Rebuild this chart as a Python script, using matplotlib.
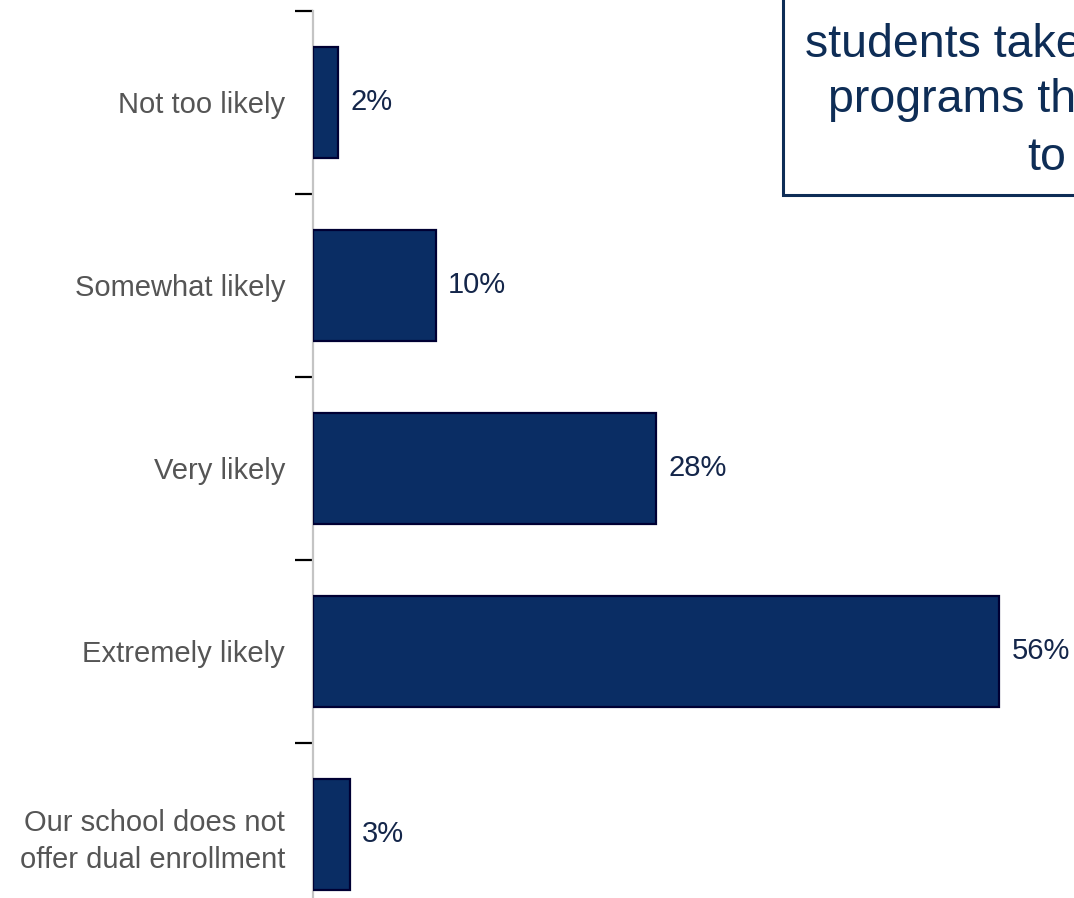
import matplotlib
matplotlib.use("Agg")
import matplotlib.pyplot as plt
from matplotlib.patches import Rectangle
import numpy as np

plt.rcParams['font.family'] = ['Liberation Sans', 'DejaVu Sans']

# Survey responses (top to bottom)
categories = [
    "Not too likely",
    "Somewhat likely",
    "Very likely",
    "Extremely likely",
    "Our school does not\noffer dual enrollment",
]
shares = [2, 10, 28, 56, 3]
value_labels = ["2%", "10%", "28%", "56%", "3%"]

question_lines = ["students take", "programs th", "to"]

W, H = 1074, 898
fig = plt.figure(figsize=(W / 100, H / 100), dpi=100)
fig.patch.set_facecolor("white")

# axes placed in pixel terms, running past the bottom edge of the canvas
left_px, top_px, width_px, height_px = 313, 11, 735, 915
ax = fig.add_axes([left_px / W, 1 - (top_px + height_px) / H, width_px / W, height_px / H])

ypos = np.arange(len(categories))
bars = ax.barh(ypos, shares, height=0.61, color="#0a2d64",
               edgecolor="#000033", linewidth=1.6, zorder=3)
ax.bar_label(bars, labels=value_labels, padding=9, fontsize=21,
             color="#14264a")

ax.set_xlim(0, 60)
ax.set_ylim(len(categories) - 0.5, -0.5)

for side in ("top", "right", "bottom"):
    ax.spines[side].set_visible(False)
ax.spines["left"].set_color("#c4c4c4")
ax.spines["left"].set_linewidth(1.6)

ax.set_xticks([])
# boundary ticks between categories, labels at category centres
ax.set_yticks(np.arange(-0.5, len(categories), 1.0))
ax.set_yticklabels([])
ax.tick_params(axis="y", which="major", length=13, width=1.6, color="black")
ax.set_yticks(ypos, minor=True)
ax.set_yticklabels(categories, minor=True, fontsize=21, color="#555555",
                   linespacing=1.4)
ax.tick_params(axis="y", which="minor", length=0, pad=20)

# question box at the upper right
box = Rectangle((783 / W, 1 - 195 / H), 0.5, 0.5, transform=fig.transFigure,
                facecolor="white", edgecolor="#0e2d56", linewidth=2.2,
                zorder=5)
fig.add_artist(box)
line_x = [805, 828, 1027]
line_base = [57, 112, 170]
for txt, xp, yp in zip(question_lines, line_x, line_base):
    fig.text(xp / W, 1 - yp / H, txt, fontsize=33.5, color="#0e2d56",
             ha="left", va="baseline", zorder=6)

fig.savefig("out.png", dpi=100)
